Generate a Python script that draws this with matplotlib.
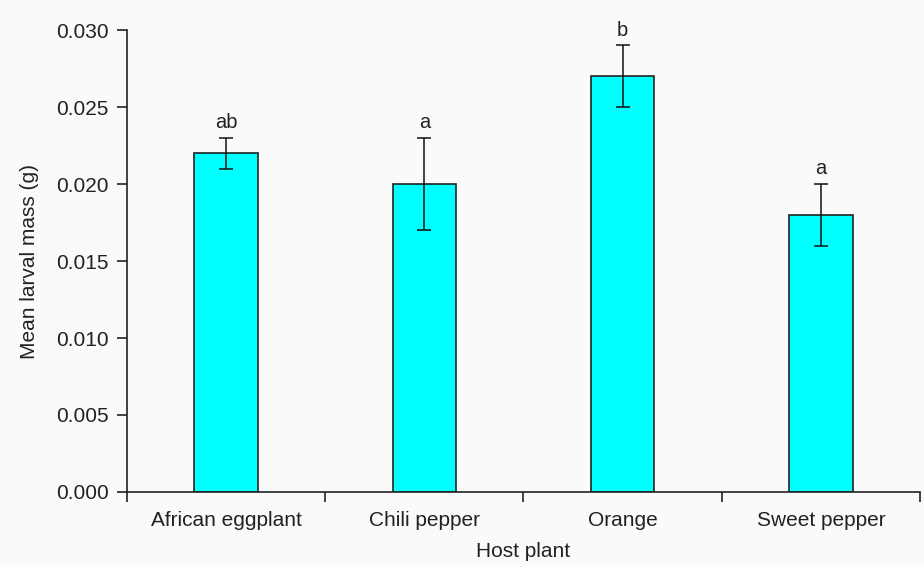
import matplotlib
matplotlib.use("Agg")
import numpy as np
import matplotlib.pyplot as plt

# ── data ──────────────────────────────────────────────────────────────────────
hosts   = ["African eggplant", "Chili pepper", "Orange", "Sweet pepper"]
means   = [0.022, 0.020, 0.027, 0.018]
errors  = [0.001, 0.003, 0.002, 0.002]
letters = ["ab", "a", "b", "a"]

CYAN = "#00FFFF"
BG   = "#FAFAFA"
TXT  = "#222222"

plt.rcParams["font.family"] = ["Liberation Sans", "DejaVu Sans"]

fig = plt.figure(figsize=(9.24, 5.67), dpi=100, facecolor=BG)
ax = fig.add_axes([0.1374, 0.1323, 0.8583, 0.8147])
ax.set_facecolor(BG)

x = np.arange(len(hosts))
ax.bar(x, means, width=0.32, color=CYAN, edgecolor="#222222", linewidth=1.2, zorder=2)
ax.errorbar(x, means, yerr=errors, fmt="none", ecolor="#111111",
            elinewidth=1.1, capsize=5, capthick=1.1, zorder=3)

# significance letters above each error bar
for xi, m, e, lab in zip(x, means, errors, letters):
    ax.annotate(lab, (xi, m + e), xytext=(0, 4), textcoords="offset points",
                ha="center", va="bottom", fontsize=14.5, color=TXT)

ax.set_xlim(-0.5, len(hosts) - 0.5)
ax.set_ylim(0, 0.030)
ax.set_yticks(np.arange(0, 0.0301, 0.005))
ax.yaxis.set_major_formatter(matplotlib.ticker.FormatStrFormatter("%.3f"))

# category names centred, ticks on category boundaries
ax.set_xticks(np.arange(-0.5, len(hosts)), minor=False)
ax.set_xticklabels([])
ax.set_xticks(x, minor=True)
ax.set_xticklabels(hosts, minor=True)
ax.tick_params(axis="x", which="minor", length=0, pad=14, labelsize=15, colors=TXT)
ax.tick_params(axis="x", which="major", length=7, width=1.2, direction="out")
ax.tick_params(axis="y", length=7, width=1.2, direction="out", labelsize=15,
               colors=TXT, pad=6)
ax.tick_params(axis="both", which="major", color="#222222")

for side in ["top", "right"]:
    ax.spines[side].set_visible(False)
for side in ["left", "bottom"]:
    ax.spines[side].set_linewidth(1.2)
    ax.spines[side].set_color("#222222")

ax.set_xlabel("Host plant", fontsize=15, color=TXT, labelpad=8)
ax.set_ylabel("Mean larval mass (g)", fontsize=15, color=TXT, labelpad=12)

fig.savefig("out.png", dpi=100, facecolor=BG)
